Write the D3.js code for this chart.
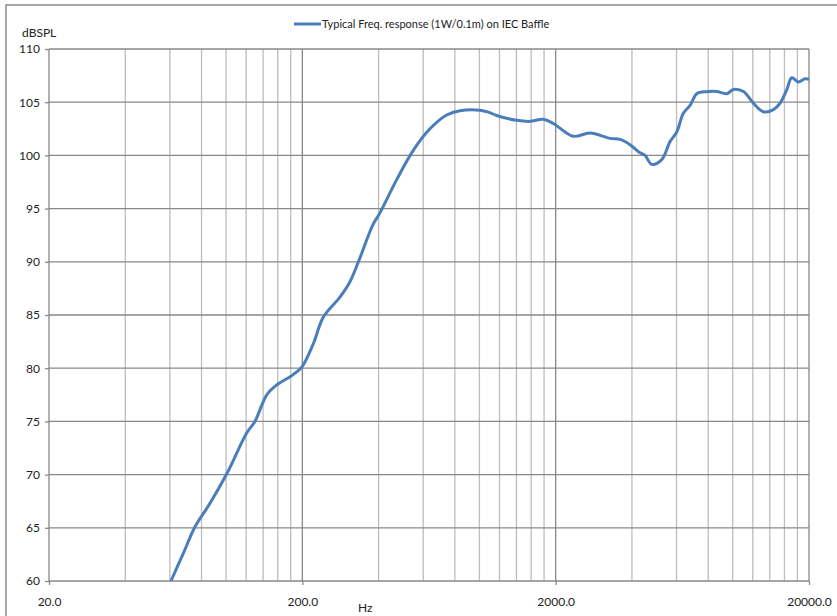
<!DOCTYPE html>
<html>
<head>
<meta charset="utf-8">
<script src="https://cdn.jsdelivr.net/npm/d3@7"></script>
<style type="text/css">
	body{ margin:0; background:#fff; }
	svg text{ font-family: Lato, "Open Sans", sans-serif; fill:#222; }
	.axis path{ display:none; }
	.axis line{ stroke:#888; stroke-width:1.3; }
</style>
</head>
<body>
<svg id="chart" width="837" height="616"></svg>
<script type="text/javascript">
	// frequency response
	var freq = [60.6, 67.8, 75.4, 86.4, 100.5, 120.6, 130, 144.7, 156, 184, 199, 221, 242, 282, 308, 333,
		380, 405, 471, 549, 638, 743, 838, 1006, 1090, 1170, 1403, 1585, 1788, 1959, 2348, 2733, 3279, 3590, 3933,
		4243, 4507, 4788, 5244, 5656, 6010, 6383, 6786, 7213, 7897, 8650, 9472, 10060, 11020, 12070,
		13220, 14470, 15370, 16330, 17100, 18160, 19300, 20000];
	var spl = [60, 62.6, 65.1, 67.3, 70.05, 73.9, 75.0, 77.5, 78.3, 79.4, 80.1, 82.3, 84.8, 86.7, 88.1, 90.0,
		93.5, 94.6, 97.7, 100.5, 102.5, 103.8, 104.2, 104.25, 104.05, 103.75, 103.3, 103.2, 103.4, 103.0, 101.8, 102.1, 101.6, 101.5, 101.0,
		100.35, 100.0, 99.16, 99.6, 101.3, 102.2, 103.95, 104.7, 105.8, 105.99, 106.0, 105.8, 106.2, 106.0, 104.9,
		104.1, 104.3, 104.9, 106.15, 107.3, 106.9, 107.2, 107.15];

	var xMajor = [20, 200, 2000, 20000];
	var xMinor = [40, 60, 80, 100, 120, 140, 160, 180,
		400, 600, 800, 1000, 1200, 1400, 1600, 1800,
		4000, 6000, 8000, 10000, 12000, 14000, 16000, 18000];
	var yTicks = [60, 65, 70, 75, 80, 85, 90, 95, 100, 105, 110];
	var seriesName = "Typical Freq. response (1W/0.1m) on IEC Baffle";

	var svg = d3.select("#chart");
	var L = 49, R = 809, T = 49, B = 581;

	var x = d3.scaleLog().domain([20, 20000]).range([L, R]);
	var y = d3.scaleLinear().domain([60, 110]).range([B, T]);

	// outer chart frame
	svg.append("rect")
		.attr("x", 6).attr("y", 5).attr("width", 900).attr("height", 700)
		.attr("fill", "none").attr("stroke", "#8a8a8a").attr("stroke-width", 1.5);

	// minor vertical grid
	svg.append("g").selectAll("line")
		.data(xMinor).enter().append("line")
		.attr("x1", function(d){ return x(d); })
		.attr("x2", function(d){ return x(d); })
		.attr("y1", T).attr("y2", B)
		.attr("stroke", "#bdbdbd").attr("stroke-width", 1.3);

	// major grid
	svg.append("g").selectAll("line")
		.data(yTicks).enter().append("line")
		.attr("x1", L).attr("x2", R)
		.attr("y1", function(d){ return y(d); })
		.attr("y2", function(d){ return y(d); })
		.attr("stroke", "#888").attr("stroke-width", 1.3);
	svg.append("g").selectAll("line")
		.data(xMajor).enter().append("line")
		.attr("x1", function(d){ return x(d); })
		.attr("x2", function(d){ return x(d); })
		.attr("y1", T).attr("y2", B)
		.attr("stroke", "#888").attr("stroke-width", 1.3);

	// axes
	svg.append("g").attr("class", "axis")
		.attr("transform", "translate(" + L + ",0)")
		.call(d3.axisLeft(y).tickValues(yTicks).tickSize(4).tickPadding(5).tickFormat(d3.format("d")))
		.selectAll("text").style("font-size", "12px");

	svg.append("g").attr("class", "axis")
		.attr("transform", "translate(0," + B + ")")
		.call(d3.axisBottom(x).tickValues(xMajor).tickSize(4).tickPadding(12).tickFormat(d3.format(".1f")))
		.selectAll("text").style("font-size", "12px");

	// axis titles
	svg.append("text").attr("x", 22).attr("y", 37).style("font-size", "12px").text("dBSPL");
	svg.append("text").attr("x", 358).attr("y", 612).style("font-size", "12px").text("Hz");

	// curve
	svg.append("clipPath").attr("id", "plotclip")
		.append("rect").attr("x", L).attr("y", T - 5).attr("width", R - L + 3).attr("height", B - T + 5);

	var line = d3.line()
		.x(function(d){ return x(d[0]); })
		.y(function(d){ return y(d[1]); })
		.curve(d3.curveCatmullRom.alpha(0.5));

	svg.append("path")
		.datum(d3.zip(freq, spl))
		.attr("clip-path", "url(#plotclip)")
		.attr("d", line)
		.attr("fill", "none")
		.attr("stroke", "#4a7ebb")
		.attr("stroke-width", 3)
		.attr("stroke-linejoin", "round");

	// legend
	var lg = svg.append("g").attr("transform", "translate(294,24)");
	lg.append("line").attr("x1", 0).attr("x2", 27).attr("y1", 0).attr("y2", 0)
		.attr("stroke", "#4a7ebb").attr("stroke-width", 3);
	lg.append("text").attr("x", 28).attr("y", 4).style("font-size", "11px").text(seriesName);
</script>
</body>
</html>
